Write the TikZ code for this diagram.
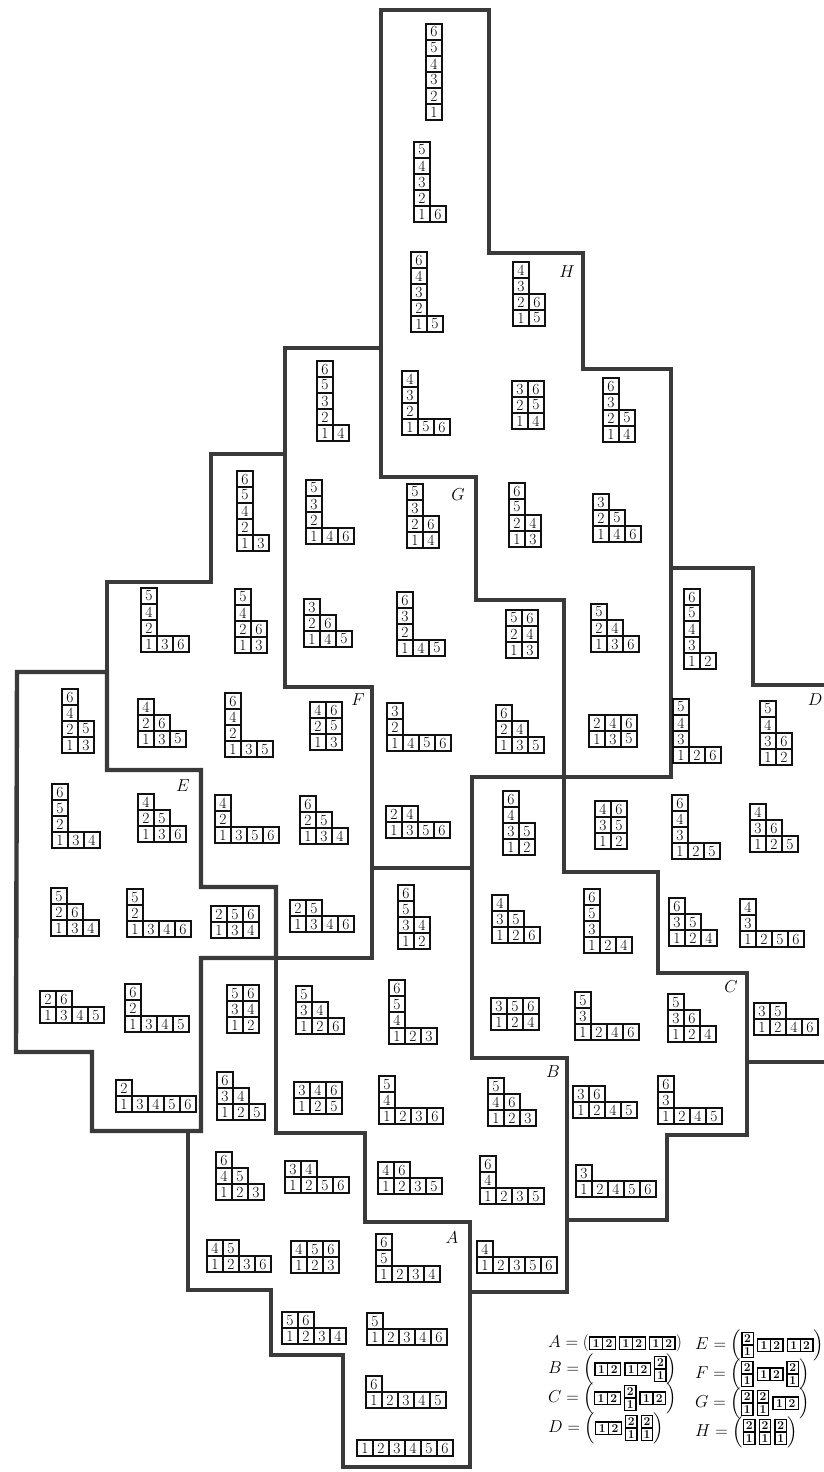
\documentclass[tikz,border=0pt]{standalone}
\usepackage{fontspec}
\usepackage{amsmath}
\usepackage{tikz}
\usetikzlibrary{positioning}
\usepackage{xcolor}
\definecolor{bord}{HTML}{3A3A3A}
\definecolor{encre}{HTML}{111111}
\tikzset{
    cell/.style={
        draw=encre,
        line width=1.2pt,
        minimum size=16pt,
        inner sep=0pt,
        font=\fontsize{15.5}{15.5}\selectfont
    },
    region/.style={
        draw=bord,
        line width=4.4pt,
        line join=miter
    },
    regionlabel/.style={
        font=\fontsize{17}{17}\selectfont,
        inner sep=0pt
    },
    legend/.style={
        anchor=west,
        inner sep=0pt,
        font=\fontsize{16}{19}\selectfont
    }
}

% Tableau (notation française) : nom, coin bas gauche, lignes
\newcommand{\tabl}[4]{%
    \foreach \ligne [count=\nr] in {#4} {
        \foreach \val [count=\nc] in \ligne {
            \node[cell] (#1-\nr-\nc) at ({#2+16*\nc-8},{#3-16*\nr+8}) {\val};
        }
    }%
}

% Dominos de la légende
\newcommand{\dcell}[2]{\makebox[#1]{\rule[-1.5pt]{0pt}{11pt}\fontsize{12}{12}\bfseries #2}}
\newcommand{\hdom}{\vcenter{\hbox{\setlength{\fboxsep}{0pt}\setlength{\fboxrule}{1.4pt}%
    \fbox{\dcell{11.5pt}{1}\vrule width 1.2pt\dcell{11.5pt}{2}}}}}
\newcommand{\vdom}{\vcenter{\hbox{\setlength{\fboxsep}{0pt}\setlength{\fboxrule}{1.4pt}%
    \fbox{\vbox{\hbox{\dcell{10pt}{2}}\hrule height 1.2pt\hbox{\dcell{10pt}{1}}}}}}}

\begin{document}
\begin{tikzpicture}[x=1pt,y=-1pt]

    \useasboundingbox (0,0) rectangle (824,1472);
    \fill[white] (0,0) rectangle (824,1472);

    % Région H
    \draw[region]
        (381,10) -- (489,10) -- (489,253) -- (583,253) -- (583,369)
        -- (671,369) -- (671,777) -- (564,777) -- (564,600) -- (476,600)
        -- (476,477) -- (381,477) -- cycle;

    % Région G
    \draw[region]
        (285,348) -- (381,348) -- (381,477) -- (476,477) -- (476,600)
        -- (564,600) -- (564,777) -- (472,777) -- (472,868) -- (372,868)
        -- (372,687) -- (285,687) -- cycle;

    % Région F
    \draw[region]
        (211,454) -- (285,454) -- (285,687) -- (372,687) -- (372,958)
        -- (276,958) -- (276,887) -- (201,887) -- (201,770) -- (107,770)
        -- (107,582) -- (211,582) -- cycle;

    % Région E
    \draw[region]
        (17,672) -- (107,672) -- (107,770) -- (201,770) -- (201,887)
        -- (276,887) -- (276,958) -- (201,958) -- (201,1131) -- (92,1131)
        -- (92,1052) -- (16,1052) -- cycle;

    % Région D
    \draw[region]
        (671,568) -- (753,568) -- (753,685) -- (845,685) -- (845,1062)
        -- (747,1062) -- (747,973) -- (658,973) -- (658,872) -- (564,872)
        -- (564,777) -- (671,777) -- cycle;

    % Région C
    \draw[region]
        (472,777) -- (564,777) -- (564,872) -- (658,872) -- (658,973)
        -- (747,973) -- (747,1135) -- (667,1135) -- (667,1220) -- (567,1220)
        -- (567,1058) -- (472,1058) -- cycle;

    % Région B
    \draw[region]
        (372,868) -- (472,868) -- (472,1058) -- (567,1058) -- (567,1292)
        -- (470,1292) -- (470,1222) -- (365,1222) -- (365,1133) -- (276,1133)
        -- (276,958) -- (372,958) -- cycle;

    % Région A
    \draw[region]
        (201,958) -- (276,958) -- (276,1133) -- (365,1133) -- (365,1222)
        -- (470,1222) -- (470,1467) -- (343,1467) -- (343,1355) -- (271,1355)
        -- (271,1290) -- (188,1290) -- (188,1131) -- (201,1131) -- cycle;

    % Tableaux H
    \tabl{h1}{426}{120}{{1},{2},{3},{4},{5},{6}}
    \tabl{h2}{414}{222}{{1,6},{2},{3},{4},{5}}
    \tabl{h3}{411}{332}{{1,5},{2},{3},{4},{6}}
    \tabl{h4}{513}{326}{{1,5},{2,6},{3},{4}}
    \tabl{h5}{402}{435}{{1,5,6},{2},{3},{4}}
    \tabl{h6}{512}{429}{{1,4},{2,5},{3,6}}
    \tabl{h7}{603}{442}{{1,4},{2,5},{3},{6}}
    \tabl{h8}{509}{547}{{1,3},{2,4},{5},{6}}
    \tabl{h9}{593}{542}{{1,4,6},{2,5},{3}}
    \tabl{h10}{591}{652}{{1,3,6},{2,4},{5}}
    \tabl{h11}{589}{747}{{1,3,5},{2,4,6}}

    % Tableaux G
    \tabl{g1}{317}{441}{{1,4},{2},{3},{5},{6}}
    \tabl{g2}{306}{544}{{1,4,6},{2},{3},{5}}
    \tabl{g3}{407}{548}{{1,4},{2,6},{3},{5}}
    \tabl{g4}{304}{647}{{1,4,5},{2,6},{3}}
    \tabl{g5}{397}{656}{{1,4,5},{2},{3},{6}}
    \tabl{g6}{506}{658}{{1,3},{2,4},{5,6}}
    \tabl{g7}{387}{751}{{1,4,5,6},{2},{3}}
    \tabl{g8}{496}{753}{{1,3,5},{2,4},{6}}
    \tabl{g9}{386}{838}{{1,3,5,6},{2,4}}

    % Tableaux F
    \tabl{f1}{237}{551}{{1,3},{2},{4},{5},{6}}
    \tabl{f2}{141}{652}{{1,3,6},{2},{4},{5}}
    \tabl{f3}{235}{653}{{1,3},{2,6},{4},{5}}
    \tabl{f4}{138}{747}{{1,3,5},{2,6},{4}}
    \tabl{f5}{225}{757}{{1,3,5},{2},{4},{6}}
    \tabl{f6}{310}{750}{{1,3},{2,5},{4,6}}
    \tabl{f7}{215}{843}{{1,3,5,6},{2},{4}}
    \tabl{f8}{300}{844}{{1,3,4},{2,5},{6}}
    \tabl{f9}{290}{932}{{1,3,4,6},{2,5}}

    % Tableaux E
    \tabl{e1}{62}{753}{{1,3},{2,5},{4},{6}}
    \tabl{e2}{52}{848}{{1,3,4},{2},{5},{6}}
    \tabl{e3}{138}{842}{{1,3,6},{2,5},{4}}
    \tabl{e4}{51}{936}{{1,3,4},{2,6},{5}}
    \tabl{e5}{127}{937}{{1,3,4,6},{2},{5}}
    \tabl{e6}{211}{938}{{1,3,4},{2,5,6}}
    \tabl{e7}{40}{1023}{{1,3,4,5},{2,6}}
    \tabl{e8}{125}{1032}{{1,3,4,5},{2},{6}}
    \tabl{e9}{116}{1112}{{1,3,4,5,6},{2}}

    % Tableaux D
    \tabl{d1}{684}{669}{{1,2},{3},{4},{5},{6}}
    \tabl{d2}{673}{763}{{1,2,6},{3},{4},{5}}
    \tabl{d3}{760}{765}{{1,2},{3,6},{4},{5}}
    \tabl{d4}{595}{849}{{1,2},{3,5},{4,6}}
    \tabl{d5}{672}{859}{{1,2,5},{3},{4},{6}}
    \tabl{d6}{750}{852}{{1,2,5},{3,6},{4}}
    \tabl{d7}{669}{946}{{1,2,4},{3,5},{6}}
    \tabl{d8}{740}{947}{{1,2,5,6},{3},{4}}
    \tabl{d9}{754}{1035}{{1,2,4,6},{3,5}}

    % Tableaux C
    \tabl{c1}{503}{855}{{1,2},{3,5},{4},{6}}
    \tabl{c2}{492}{943}{{1,2,6},{3,5},{4}}
    \tabl{c3}{584}{953}{{1,2,4},{3},{5},{6}}
    \tabl{c4}{491}{1030}{{1,2,4},{3,5,6}}
    \tabl{c5}{575}{1040}{{1,2,4,6},{3},{5}}
    \tabl{c6}{668}{1042}{{1,2,4},{3,6},{5}}
    \tabl{c7}{573}{1118}{{1,2,4,5},{3,6}}
    \tabl{c8}{658}{1124}{{1,2,4,5},{3},{6}}
    \tabl{c9}{576}{1197}{{1,2,4,5,6},{3}}

    % Tableaux B
    \tabl{b1}{398}{949}{{1,2},{3,4},{5},{6}}
    \tabl{b2}{296}{1034}{{1,2,6},{3,4},{5}}
    \tabl{b3}{389}{1044}{{1,2,3},{4},{5},{6}}
    \tabl{b4}{294}{1114}{{1,2,5},{3,4,6}}
    \tabl{b5}{379}{1124}{{1,2,3,6},{4},{5}}
    \tabl{b6}{488}{1126}{{1,2,3},{4,6},{5}}
    \tabl{b7}{378}{1194}{{1,2,3,5},{4,6}}
    \tabl{b8}{480}{1204}{{1,2,3,5},{4},{6}}
    \tabl{b9}{477}{1273}{{1,2,3,5,6},{4}}

    % Tableaux A
    \tabl{a1}{227}{1033}{{1,2},{3,4},{5,6}}
    \tabl{a2}{217}{1120}{{1,2,5},{3,4},{6}}
    \tabl{a3}{216}{1200}{{1,2,3},{4,5},{6}}
    \tabl{a4}{285}{1193}{{1,2,5,6},{3,4}}
    \tabl{a5}{207}{1272}{{1,2,3,6},{4,5}}
    \tabl{a6}{291}{1273}{{1,2,3},{4,5,6}}
    \tabl{a7}{376}{1282}{{1,2,3,4},{5},{6}}
    \tabl{a8}{282}{1344}{{1,2,3,4},{5,6}}
    \tabl{a9}{367}{1345}{{1,2,3,4,6},{5}}
    \tabl{a10}{366}{1408}{{1,2,3,4,5},{6}}
    \tabl{a11}{357}{1456}{{1,2,3,4,5,6}}

    % Noms des régions
    \node[regionlabel] (labH) at (567,272) {$H$};
    \node[regionlabel] (labG) at (458,495) {$G$};
    \node[regionlabel] (labF) at (358,700) {$F$};
    \node[regionlabel] (labE) at (183,786) {$E$};
    \node[regionlabel] (labD) at (815,700) {$D$};
    \node[regionlabel] (labC) at (731,987) {$C$};
    \node[regionlabel] (labB) at (553,1072) {$B$};
    \node[regionlabel] (labA) at (452,1238) {$A$};

    % Légende
    \node[legend] (legA) at (548,1343) {$A=(\hdom\,\hdom\,\hdom)$};
    \node[legend] (legB) at (548,1369) {$B=\Bigl(\hdom\,\hdom\,\vdom\Bigr)$};
    \node[legend] (legC) at (548,1398) {$C=\Bigl(\hdom\,\vdom\,\hdom\Bigr)$};
    \node[legend] (legD) at (548,1428) {$D=\Bigl(\hdom\,\vdom\,\vdom\Bigr)$};
    \node[legend] (legE) at (695,1345) {$E=\Bigl(\vdom\,\hdom\,\hdom\Bigr)$};
    \node[legend] (legF) at (695,1374) {$F=\Bigl(\vdom\,\hdom\,\vdom\Bigr)$};
    \node[legend] (legG) at (695,1403) {$G=\Bigl(\vdom\,\vdom\,\hdom\Bigr)$};
    \node[legend] (legH) at (695,1432) {$H=\Bigl(\vdom\,\vdom\,\vdom\Bigr)$};

\end{tikzpicture}
\end{document}
